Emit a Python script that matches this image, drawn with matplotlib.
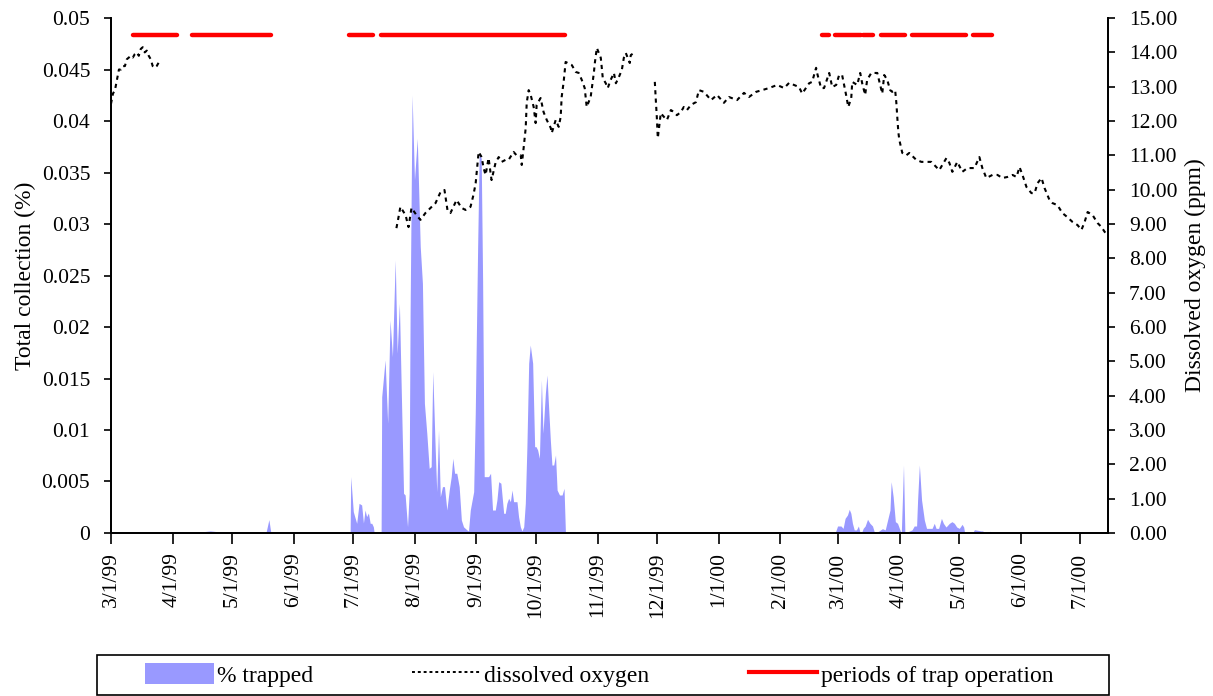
import numpy as np
import pandas as pd
import matplotlib
matplotlib.use("Agg")
import matplotlib.pyplot as plt
from matplotlib.patches import Patch, Rectangle
from matplotlib.lines import Line2D

plt.rcParams['font.family'] = ['Liberation Serif', 'DejaVu Serif']

# all x values are days since 3/1/99
start = pd.Timestamp('1999-03-01')

# % trapped (left axis)
trap_days = [0, 33, 35, 40, 45, 50, 55, 60, 65, 78, 79.5, 80.5,
             120.4, 120.7, 122.0, 123.7, 124.9, 126.2, 127.1, 127.9, 128.7, 129.6, 130.5, 131.3, 132.1, 132.5,
             136.0, 136.3, 138.0, 139.3, 140.5, 141.7, 143.1, 144.1, 145.2, 146.4, 147.3, 148.1, 149.3, 150.1,
             150.6, 151.6, 152.8, 154.2, 155.7, 156.8, 157.8, 159.0, 160.2, 161.2, 162.0, 163.2, 164.0, 164.9,
             165.8, 166.9, 167.9, 169.1, 170.3, 171.3, 172.1, 173.0, 174.1, 175.3, 176.4, 177.5, 179.2, 180.0,
             180.9, 182.6, 183.4, 184.6, 185.4, 186.4, 187.1, 187.9, 188.8, 190.1, 191.1, 192.1, 193.5, 194.3,
             195.2, 196.3, 197.7, 198.5, 199.3, 200.2, 201.1, 201.9, 202.7, 204.4, 205.2, 206.1, 206.9, 207.8,
             208.6, 209.4, 210.3, 211.1, 212.3, 213.3, 214.0, 214.8, 215.7, 216.7, 217.5, 218.7, 219.5, 220.4,
             221.2, 222.0, 222.9, 223.8, 224.6, 225.8, 227.1, 228.1, 228.8,
             358.0, 359.0, 360.0, 364.6, 365.8, 367.5, 368.6, 369.6, 370.8, 371.7, 372.5, 373.3, 374.2, 375.3,
             376.3, 377.0, 378.1, 378.7, 379.7, 380.9, 382.1, 383.4, 384.3, 385.9, 388.4, 389.8, 391.0, 392.2,
             392.8, 393.8, 394.9, 396.0, 397.2, 397.9, 398.5, 399.0, 399.7, 403.3, 404.4, 405.6, 406.1, 407.0,
             408.1, 409.5, 410.6, 412.0, 413.4, 414.5, 415.4, 416.7, 418.1, 419.1, 420.4, 422.1, 423.4, 424.6,
             425.8, 427.1, 428.5, 429.3, 429.8, 433.8, 434.7, 436.4, 438.1, 438.9, 439.7, 442.6, 443.6, 502]
trap_vals = [0, 0, 0.0001, 0.00005, 0.0001, 0.0002, 0.0001, 0.0001, 0, 0, 0.0013, 0,
             0, 0.00547, 0.00207, 0.00094, 0.00288, 0.00272, 0.00097, 0.00223, 0.00159, 0.00194, 0.00094, 0.00094, 0.0006, 0,
             0, 0.01323, 0.0168, 0.01065, 0.02068, 0.01712, 0.0265, 0.01745, 0.0223, 0.01162, 0.00385, 0.00369, 0.0006, 0.00385,
             0.02133, 0.04252, 0.03427, 0.03832, 0.0278, 0.02424, 0.01259, 0.00968, 0.00628, 0.00644, 0.01566, 0.00838, 0.00401, 0.01,
             0.00352, 0.0045, 0.0045, 0.00223, 0.00417, 0.00547, 0.00725, 0.0058, 0.0058, 0.0045, 0.00126, 0.0006, 0.0003, 0.0002,
             0.00223, 0.00401, 0.01162, 0.0278, 0.03686, 0.03638, 0.02456, 0.00547, 0.00547, 0.00547, 0.0058, 0.00223, 0.00223, 0.0032,
             0.00498, 0.00483, 0.00191, 0.00191, 0.00288, 0.00337, 0.00304, 0.00417, 0.00304, 0.00304, 0.00158, 0.0006, 0.0002, 0.0006,
             0.00288, 0.00838, 0.01648, 0.01825, 0.01648, 0.00838, 0.00838, 0.00806, 0.00725, 0.01485, 0.00968, 0.01356, 0.01534, 0.01194,
             0.00903, 0.0066, 0.0066, 0.00757, 0.00417, 0.00369, 0.00369, 0.00434, 0,
             0, 0.0001, 0, 0, 0.00068, 0.00068, 0.00045, 0.00142, 0.00175, 0.0023, 0.00191, 0.00094, 0.0003, 0.0003,
             0.00068, 0.00013, 0.00013, 0.00045, 0.00068, 0.00133, 0.00094, 0.00068, 0.0001, 0.0001, 0.00042, 0.0003, 0.00126, 0.00223,
             0.00498, 0.00352, 0.0011, 0.00094, 0.0003, 0, 0.00352, 0.0066, 0, 0.0003, 0.00068, 0.00068, 0.0032, 0.0066,
             0.0032, 0.00126, 0.00045, 0.00045, 0.00045, 0.00094, 0.00045, 0.00045, 0.00142, 0.00094, 0.00058, 0.00094, 0.0011, 0.00094,
             0.00058, 0.00045, 0.00084, 0.00058, 0, 0, 0.00032, 0.00026, 0.0002, 0.0002, 0, 0.00016, 0, 0]

# dissolved oxygen (right axis), three recorded stretches
do1_days = list(range(25))
do1_vals = [12.5, 12.8, 12.9, 13.2, 13.5, 13.5, 13.6, 13.6, 13.8, 13.85, 13.9, 13.85, 13.95, 14.0, 13.9,
            14.1, 14.15, 14.0, 14.05, 13.9, 13.8, 13.6, 13.55, 13.6, 13.7]

do2_days = [143.7, 144.7, 145.7, 148.3, 149.8, 151.3, 153.8, 155.8, 158.3, 160.9, 163.4, 165.9, 167.9, 169.4,
            170.9, 174.0, 176.5, 178.5, 181.0, 182.5, 183.6, 185.1, 186.6, 187.6, 188.6, 190.1, 191.6, 193.6,
            195.2, 196.7, 198.7, 200.2, 202.7, 204.2, 206.3, 206.8, 207.8, 208.8, 209.3, 210.3, 211.3, 212.8,
            213.8, 214.3, 216.3, 217.8, 219.4, 221.4, 221.9, 223.9, 225.4, 226.4, 226.9, 227.9, 228.9, 232.0,
            234.0, 235.5, 237.0, 238.5, 239.5, 241.5, 242.1, 243.1, 243.6, 244.6, 246.6, 247.1, 247.6, 249.1,
            250.1, 251.6, 253.2, 254.2, 255.7, 257.2, 258.2, 259.2, 261.2, 261.7, 263.2]
do2_vals = [8.88, 9.18, 9.50, 9.26, 8.91, 9.47, 9.26, 9.12, 9.32, 9.47, 9.61, 9.93, 9.99, 9.41,
            9.32, 9.70, 9.47, 9.41, 9.50, 9.85, 10.19, 11.10, 10.95, 10.63, 10.43, 10.92, 10.28, 10.78,
            10.95, 10.81, 10.87, 10.87, 11.10, 11.00, 11.00, 10.72, 11.24, 11.80, 12.53, 12.90, 12.76, 12.41,
            11.94, 12.47, 12.67, 12.26, 12.03, 11.80, 11.65, 12.03, 11.83, 12.12, 12.70, 13.14, 13.72, 13.63,
            13.43, 13.40, 13.20, 12.96, 12.41, 12.70, 12.96, 13.40, 13.69, 14.13, 13.84, 13.55, 13.25, 13.10,
            12.96, 13.20, 13.40, 13.10, 13.28, 13.49, 13.84, 13.98, 13.69, 13.92, 13.98]

do3_days = [273.8, 274.3, 274.8, 275.3, 276.8, 278.4, 279.9, 281.9, 283.4, 284.9, 286.9, 288.4, 290.0, 292.0,
            294.5, 296.0, 298.5, 302.1, 305.1, 308.6, 311.1, 315.2, 318.7, 321.2, 324.8, 327.8, 331.3, 335.4,
            338.9, 341.4, 346.4, 348.0, 351.5, 353.0, 355.0, 355.5, 357.5, 359.0, 361.6, 363.1, 365.1, 366.6,
            368.1, 370.1, 371.2, 372.7, 373.2, 375.7, 377.2, 378.2, 379.7, 380.7, 382.8, 384.3, 385.8, 388.3,
            389.3, 390.8, 392.3, 393.3, 394.8, 395.4, 395.9, 396.4, 396.9, 398.4, 400.4, 401.9, 405.4, 408.0,
            410.5, 413.0, 415.5, 417.0, 420.6, 422.1, 423.6, 426.1, 428.6, 431.2, 434.7, 437.2, 438.7, 440.7,
            443.8, 446.3, 448.8, 451.3, 453.9, 455.9, 457.4, 458.9, 460.9, 463.4, 465.0, 466.5, 468.5, 470.0,
            472.5, 474.0, 476.5, 479.0, 481.5, 484.1, 486.6, 488.6, 490.2, 491.7, 494.2, 496.7, 498.7, 500.3, 501.8]
do3_vals = [13.14, 12.61, 12.12, 11.50, 12.23, 12.12, 12.03, 12.32, 12.26, 12.17, 12.26, 12.41, 12.32, 12.47,
            12.55, 12.90, 12.85, 12.61, 12.76, 12.53, 12.70, 12.61, 12.82, 12.70, 12.85, 12.90, 12.96, 13.05,
            12.96, 13.11, 12.99, 12.80, 13.10, 13.14, 13.55, 13.40, 12.96, 12.96, 13.40, 12.99, 13.05, 13.34,
            13.34, 12.76, 12.41, 12.67, 13.14, 13.05, 13.40, 13.10, 12.76, 13.20, 13.40, 13.40, 13.40, 12.80,
            13.34, 13.20, 12.90, 12.85, 12.90, 12.53, 12.09, 11.68, 11.45, 11.07, 11.00, 11.07, 10.87, 10.81,
            10.81, 10.81, 10.66, 10.57, 10.92, 10.78, 10.52, 10.81, 10.52, 10.63, 10.63, 10.95, 10.63, 10.34,
            10.43, 10.43, 10.34, 10.37, 10.43, 10.37, 10.66, 10.43, 10.08, 9.90, 9.90, 10.19, 10.34, 10.05,
            9.70, 9.61, 9.55, 9.32, 9.20, 9.06, 8.97, 8.83, 9.06, 9.35, 9.26, 9.03, 8.91, 8.77, 8.68]

# periods of trap operation (start, end days)
op_start = [11, 41, 120, 136, 358, 364.6, 378.7, 387.8, 403.4, 434.2]
op_end = [33, 80.5, 132, 228.6, 361.6, 377.7, 383.8, 399.9, 430.7, 443.8]
op_level = 14.5

months = pd.date_range('1999-03-01', '2000-07-01', freq='MS')
month_days = [(m - start).days for m in months]
month_labels = [f"{m.month}/{m.day}/{m.year % 100:02d}" for m in months]

left_ticks = [0, 0.005, 0.01, 0.015, 0.02, 0.025, 0.03, 0.035, 0.04, 0.045, 0.05]
left_labels = ['0', '0.005', '0.01', '0.015', '0.02', '0.025', '0.03', '0.035', '0.04', '0.045', '0.05']

fig = plt.figure(figsize=(12.13, 6.96), dpi=100)
ax = fig.add_axes([0.0915, 0.2342, 0.822, 0.7399])
ax2 = ax.twinx()

ax.fill_between(trap_days, trap_vals, 0, color='#9999FF', linewidth=0)

for d, v in [(do1_days, do1_vals), (do2_days, do2_vals), (do3_days, do3_vals)]:
    ax2.plot(d, v, color='black', linewidth=1.5, linestyle=(0, (2, 2)))

for s, e in zip(op_start, op_end):
    ax2.plot([s, e], [op_level, op_level], color='#FF0000', linewidth=3.2, solid_capstyle='round')

ax.set_xlim(0, 502)
ax.set_ylim(0, 0.05)
ax2.set_ylim(0, 15)

ax.set_xticks(month_days)
ax.set_xticklabels(month_labels, rotation=90)
ax.set_yticks(left_ticks)
ax.set_yticklabels(left_labels)
ax2.set_yticks(range(16))
ax2.set_yticklabels([f"{v:.2f}" for v in range(16)])

ax.tick_params(axis='x', direction='out', length=8, width=1.2, labelsize=15.5, pad=6)
ax.tick_params(axis='y', direction='out', length=5, width=1.2, labelsize=15.5, pad=10)
ax2.tick_params(axis='y', direction='out', length=5, width=1.2, labelsize=15.5, pad=10)

for a in (ax, ax2):
    a.spines['top'].set_visible(False)
    for sp in ('left', 'right', 'bottom'):
        a.spines[sp].set_linewidth(1.3)

ax.set_ylabel('Total collection (%)', fontsize=17, labelpad=4)
ax2.set_ylabel('Dissolved oxygen (ppm)', fontsize=17, labelpad=5)

handles = [Patch(facecolor='#9999FF', edgecolor='none'),
           Line2D([], [], color='black', linewidth=1.4, linestyle=(0, (1.5, 1.5))),
           Line2D([], [], color='#FF0000', linewidth=3)]
labels = ['% trapped', 'dissolved oxygen', 'periods of trap operation']
leg = fig.legend(handles, labels, loc='center', ncol=3,
                 bbox_to_anchor=(0.494, 0.0305), fontsize=17,
                 frameon=False, handlelength=2.9, handleheight=1.0,
                 handletextpad=0.15, columnspacing=4.2)

# legend box
fig.patches.append(Rectangle((0.08, 0.002), 0.834, 0.057, transform=fig.transFigure,
                             fill=False, edgecolor='black', linewidth=1.2))

fig.savefig('out.png', dpi=100)
